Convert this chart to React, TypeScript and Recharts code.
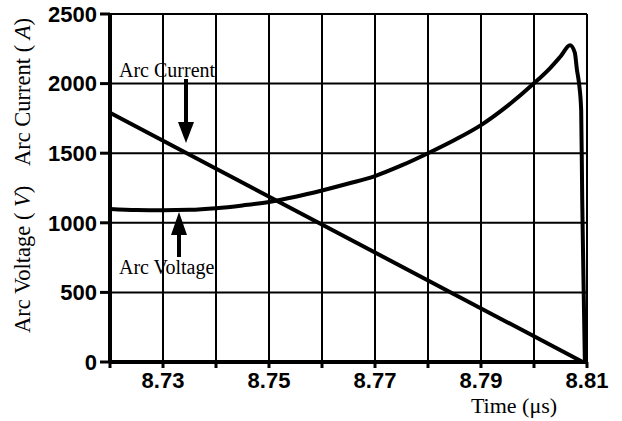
import { LineChart, Line, XAxis, YAxis, CartesianGrid } from 'recharts';

// time axis (µs)
const timeTicks = [8.72, 8.73, 8.74, 8.75, 8.76, 8.77, 8.78, 8.79, 8.8, 8.81];
const labeledTicks = ['8.73', '8.75', '8.77', '8.79', '8.81'];
const valueTicks = [0, 500, 1000, 1500, 2000, 2500];

// arc voltage (V)
const voltageTime = [
    8.72, 8.725, 8.73, 8.735, 8.74, 8.745, 8.75, 8.755, 8.76, 8.765, 8.77, 8.775, 8.78,
    8.785, 8.79, 8.795, 8.8, 8.803, 8.805, 8.8068, 8.8077, 8.8081, 8.8085, 8.8089, 8.8091,
    8.8094, 8.8096,
];
const voltage = [
    1100, 1092, 1090, 1093, 1105, 1125, 1150, 1187, 1232, 1282, 1336, 1412, 1500,
    1595, 1702, 1840, 2002, 2110, 2195, 2275, 2222, 2100, 2000, 1810, 1160,
    450, 0,
];

// arc current (A)
const currentTime = [8.72, 8.8092];
const current = [1790, 0];

const voltageData = voltageTime.map((t, i) => ({ t, v: voltage[i] }));
const currentData = currentTime.map((t, i) => ({ t, a: current[i] }));

const tickFont = { fontFamily: 'Liberation Sans, Arial', fontWeight: 'bold', fontSize: 22, fill: '#000' };
const serif = 'Liberation Serif, Times New Roman, serif';

const Annotations = () => (
    <svg width={622} height={421} style={{ position: 'absolute', left: 0, top: 0, pointerEvents: 'none' }}>
        <text x={119} y={77} fontFamily={serif} fontSize={20} fill="#000">Arc Current</text>
        <line x1={186} y1={79} x2={186} y2={124} stroke="#000" strokeWidth={4} />
        <polygon points="178,122 194,122 186,143" fill="#000" />
        <text x={119} y={274} fontFamily={serif} fontSize={20} fill="#000">Arc Voltage</text>
        <line x1={179} y1={257} x2={179} y2={233} stroke="#000" strokeWidth={4} />
        <polygon points="171,235 187,235 179,212" fill="#000" />
        <text x={514} y={413} fontFamily={serif} fontSize={22} fill="#000" textAnchor="middle">Time (μs)</text>
        <text x={30} y={333} transform="rotate(-90, 30, 333)" fontFamily={serif} fontSize={22.5} fill="#000">
            Arc Voltage ( <tspan fontStyle="italic">V</tspan>)
        </text>
        <text
            x={30}
            y={18}
            transform="rotate(-90, 30, 18)"
            fontFamily={serif}
            fontSize={22.5}
            fill="#000"
            textAnchor="end"
        >
            Arc Current ( <tspan fontStyle="italic">A</tspan>)
        </text>
    </svg>
);

export default function App() {
    return (
        <div style={{ position: 'absolute', left: 0, top: 0, width: 622, height: 421, background: '#fff' }}>
            <LineChart width={622} height={421} margin={{ top: 14, right: 35, left: 0, bottom: 29 }}>
                <CartesianGrid stroke="#000" strokeWidth={2} />
                <XAxis
                    type="number"
                    dataKey="t"
                    domain={[8.72, 8.81]}
                    ticks={timeTicks}
                    interval={0}
                    allowDataOverflow
                    height={30}
                    tick={tickFont}
                    tickFormatter={(v: number) => (labeledTicks.includes(v.toFixed(2)) ? v.toFixed(2) : '')}
                    axisLine={{ stroke: '#000', strokeWidth: 4 }}
                    tickLine={{ stroke: '#000', strokeWidth: 3 }}
                    tickSize={6}
                    tickMargin={4}
                />
                <YAxis
                    type="number"
                    domain={[0, 2500]}
                    ticks={valueTicks}
                    interval={0}
                    width={110}
                    tick={tickFont}
                    axisLine={{ stroke: '#000', strokeWidth: 4 }}
                    tickLine={{ stroke: '#000', strokeWidth: 3 }}
                    tickSize={10}
                    tickMargin={3}
                />
                <Line
                    data={currentData}
                    dataKey="a"
                    type="linear"
                    stroke="#000"
                    strokeWidth={4}
                    dot={false}
                    isAnimationActive={false}
                />
                <Line
                    data={voltageData}
                    dataKey="v"
                    type="monotone"
                    stroke="#000"
                    strokeWidth={4}
                    dot={false}
                    isAnimationActive={false}
                />
            </LineChart>
            <Annotations />
        </div>
    );
}
